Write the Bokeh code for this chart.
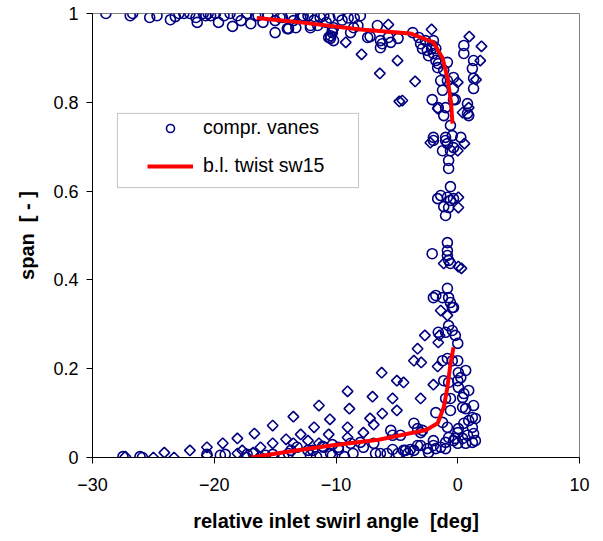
import numpy as np
from bokeh.plotting import figure
from bokeh.models import Range1d, FixedTicker, Legend, LegendItem, BoxAnnotation
from bokeh.embed import file_html
from bokeh.resources import INLINE

# ---------------- data ----------------
circ_x = [
    -28.9, -26.7, -26.9, -25.3, -24.7, -23.6, -23.2, -22.9, -22.5, -22.0, -21.5, -21.4, -20.9, -20.7,
    -20.5, -20.3, -19.9, -19.65, -19.2, -18.7, -18.5, -18.1, -17.8, -17.3, -17.0, -16.6, -16.4, -16.0,
    -15.6, -15.0, -15.0, -14.6, -14.4, -14.0, -13.9, -13.7, -13.5, -13.3, -12.9, -12.75, -12.7, -12.3,
    -12.1, -12.1, -11.5, -11.3, -10.6, -10.45, -10.3, -10.2, -10.3,
    -11.0, -10.5, -9.8, -9.5, -9.0, -8.5, -8.0, -11.8, -10.8,
    -10.45, -10.2, -8.8, -8.55, -8.2, -6.6, -7.4, -7.2, -6.35, -6.35, -6.2, -5.7, -5.5, -4.9,
    -3.7, -3.2, -3.05, -2.9, -2.65, -2.5, -2.4, -2.15, -2.0, -1.8, -1.65, -1.6, -0.85, -1.15,
    -1.4, -0.85, -0.35, -1.25, -0.35, -2.1, -1.6, -1.15, -1.0, -0.6, 0.5, 0.5, 1.3, 1.2, 1.3, 1.3,
    0.8, 0.8, -2.0, -2.1, -1.8, -0.35, -0.2, 0.9, -2.0, -1.0, 0.25,
    -1.0, -0.85, -0.45, -1.25, -0.6, -0.35, -0.75, -0.75, -2.0, -0.6, -1.65, -1.4, -0.85, -0.6,
    -1.15, -0.75, -1.0, -0.35, -0.85, -0.85, -0.85, -0.75, -2.1, -0.6, -0.85, -2.0, -1.25, -0.75,
    -1.8, -0.6, -0.45, -0.35, -0.75, -1.6, -1.0, -0.45, -0.2, 0.0, -1.25, -0.85, -0.45, 0.0,
    0.05, 0.65, -1.15, -0.75, 0.0, 0.25, 0.05, 0.5, 0.9, -1.0, -0.6, 0.4, 0.4, 0.65, 1.3, 1.2,
    1.45, 0.9, 0.5, 0.05, 1.2, 1.3, 0.8, 0.4, 1.45, 1.2, 0.65, 0.0, -0.35, -1.8, -0.6, -1.25,
    -0.85, -3.6, -2.9, -2.0, -2.0, -1.0, -1.0, -1.8, -2.5, -3.3, -3.9, -4.45, -4.1, -2.4,
    -11.1, -10.3, -9.8, -8.8, -8.0, -7.75, -6.9, -8.6, -10.45, -6.75, -6.35, -5.8, -5.35, -4.9,
    -4.3, -3.6, -3.05, -1.4, -5.5, -5.35, -4.7, -3.3, -3.05, -0.75, -0.2, 0.0,
    -27.5, -26.1, -25.9, -20.6, -19.1, -19.5, -17.4, -17.3, -16.2, -15.2, -14.3, -13.7, -13.2,
    -12.3, -12.1, -11.9, -11.0, -10.3, -9.8, -16.8, -15.8, -13.9, -11.6, -9.3,
]
circ_y = [
    1.0, 1.0, 0.995, 0.991, 0.995, 0.986, 0.993, 1.0, 1.0, 1.0, 0.991, 0.98, 1.0, 0.995,
    1.0, 0.995, 1.0, 0.98, 0.995, 1.0, 0.971, 0.995, 0.984, 1.0, 0.977, 0.995, 0.995, 0.98,
    0.995, 0.957, 0.984, 0.991, 0.991, 0.966, 0.966, 0.995, 0.984, 0.968, 0.991, 0.991, 0.995, 0.995,
    0.973, 0.968, 0.973, 0.991, 0.946, 0.95, 0.957, 0.939, 0.962,
    0.995, 0.99, 0.995, 0.985, 0.99, 0.99, 0.995, 0.985, 0.98,
    0.944, 0.968, 0.957, 0.968, 0.973, 0.973, 0.946, 0.948, 0.939, 0.923, 0.932, 0.946, 0.935, 0.944,
    0.957, 0.946, 0.932, 0.921, 0.939, 0.917, 0.905, 0.921, 0.91, 0.894, 0.878, 0.887, 0.89, 0.872,
    0.849, 0.849, 0.856, 0.827, 0.806, 0.806, 0.788, 0.77, 0.788, 0.748, 0.928, 0.91, 0.894, 0.876, 0.854, 0.831,
    0.797, 0.775, 0.939, 0.928, 0.921, 0.831, 0.806, 0.77, 0.721, 0.721, 0.721,
    0.714, 0.707, 0.725, 0.691, 0.691, 0.698, 0.669, 0.651, 0.714, 0.61, 0.583, 0.59, 0.586, 0.579,
    0.565, 0.563, 0.545, 0.583, 0.484, 0.466, 0.455, 0.444, 0.459, 0.437, 0.381, 0.36, 0.36, 0.36,
    0.365, 0.349, 0.338, 0.338, 0.297, 0.282, 0.282, 0.286, 0.275, 0.257, 0.218, 0.223, 0.218, 0.218,
    0.191, 0.196, 0.173, 0.169, 0.173, 0.18, 0.158, 0.144, 0.151, 0.133, 0.133, 0.135, 0.113, 0.11, 0.117, 0.09,
    0.088, 0.083, 0.077, 0.065, 0.068, 0.054, 0.05, 0.043, 0.038, 0.034, 0.032, 0.032, 0.038, 0.101, 0.106, 0.079,
    0.068, 0.077, 0.061, 0.038, 0.027, 0.034, 0.02, 0.02, 0.02, 0.027, 0.018, 0.016, 0.009, 0.011,
    0.025, 0.029, 0.018, 0.032, 0.034, 0.023, 0.032, 0.009, 0.009, 0.009, 0.009, 0.009, 0.018, 0.009,
    0.016, 0.016, 0.027, 0.023, 0.061, 0.05, 0.05, 0.065, 0.056, 0.045, 0.043, 0.056,
    0.002, 0.002, 0.0, 0.007, 0.007, 0.005, 0.0, 0.007, 0.0, 0.007, 0.002, 0.016, 0.023,
    0.016, 0.005, 0.016, 0.023, 0.005, 0.023, 0.009, 0.005, 0.009, 0.002, 0.002,
]

dia_x = [
    -27.3, -25.0, -24.1, -23.3, -22.0, -20.6, -19.3, -18.1, -16.7, -15.2, -13.5, -11.4, -10.5,
    -11.8, -12.9, -10.6, -14.1, -15.2, -13.5, -12.3, -11.4, -16.2, -16.8, -17.7, -20.6, -18.1,
    -2.7, -3.3, -3.6, -3.0, -6.25, -5.0, -4.45, -2.0, -9.05, -7.0, -5.35, -3.05, -8.9, -6.2,
    -5.0, -7.2, -6.9, -9.05, -7.75, -9.05, -1.5, -1.6, -1.65, -0.85, -1.4,
    0.05, -1.15, 0.3, 0.05, 0.05, -2.25, 0.55, 0.0, -1.65, 0.4,
    -9.2, -7.9, -6.4, -5.7, -4.95, -4.8, -3.5, -2.15, 0.95, 1.95, 1.85, 1.5, 0.0, 0.9, -4.55,
]
dia_y = [
    0.002, 0.0, 0.011, 0.0, 0.016, 0.023, 0.032, 0.043, 0.054, 0.072, 0.092, 0.117, 0.086,
    0.068, 0.052, 0.052, 0.041, 0.032, 0.032, 0.038, 0.032, 0.023, 0.011, 0.016, 0.005, 0.009,
    0.275, 0.245, 0.218, 0.214, 0.191, 0.173, 0.169, 0.164, 0.149, 0.137, 0.133, 0.133, 0.11, 0.099,
    0.106, 0.088, 0.074, 0.068, 0.056, 0.045, 0.275, 0.259, 0.205, 0.32, 0.331,
    0.43, 0.437, 0.426, 0.586, 0.563, 0.709, 0.707, 0.691, 0.786, 0.777,
    0.935, 0.908, 0.865, 0.975, 0.894, 0.802, 0.847, 0.964, 0.948, 0.926, 0.894, 0.851, 0.845, 0.788, 0.804,
]

twist_upper_x = [-16.5, -12.9, -8.0, -3.9, -2.0, -1.25, -0.85, -0.55, -0.43]
twist_upper_y = [0.99, 0.98, 0.964, 0.955, 0.935, 0.90, 0.856, 0.80, 0.752]
twist_lower_x = [-17.0, -13.7, -10.4, -6.5, -4.7, -2.6, -1.65, -1.15, -0.85, -0.6, -0.35]
twist_lower_y = [0.0, 0.014, 0.027, 0.04, 0.05, 0.062, 0.077, 0.113, 0.158, 0.21, 0.248]

x_ticks = [-30, -20, -10, 0, 10]
y_ticks = [0, 0.2, 0.4, 0.6, 0.8, 1.0]
y_tick_labels = ["0", "0.2", "0.4", "0.6", "0.8", "1"]

x_title = "relative inlet swirl angle \u00a0[deg]"
y_title = "span \u00a0[ - ]"
legend_labels = ["compr. vanes", "b.l. twist sw15"]

# ---------------- figure ----------------
NAVY = "#000080"
FONT = "Liberation Sans"

p = figure(width=603, height=541, frame_width=487, frame_height=444,
           output_backend="svg", toolbar_location=None,
           x_range=Range1d(-30, 10), y_range=Range1d(0, 1),
           min_border_left=92, min_border_right=24, min_border_top=13, min_border_bottom=84)
p.background_fill_color = "white"
p.border_fill_color = "white"
p.outline_line_color = "#808080"
p.outline_line_width = 1
p.xgrid.visible = False
p.ygrid.visible = False

# scatter data
dia = p.scatter(dia_x, dia_y, marker="square", angle=np.pi / 4, size=7.5,
                fill_color=None, line_color=NAVY, line_width=1.6)
circ = p.scatter(circ_x, circ_y, marker="circle", size=10,
                 fill_color=None, line_color=NAVY, line_width=1.6)

l1 = p.line(twist_upper_x, twist_upper_y, line_color="#FF0000", line_width=4)
l2 = p.line(twist_lower_x, twist_lower_y, line_color="#FF0000", line_width=4)

# axes
for ax in (p.xaxis[0], p.yaxis[0]):
    ax.axis_line_color = "black"
    ax.axis_line_width = 1
    ax.major_tick_line_color = "black"
    ax.major_tick_in = 0
    ax.major_tick_out = 6
    ax.minor_tick_line_color = None
    ax.major_label_text_font = FONT
    ax.major_label_text_font_size = "18px"
    ax.major_label_text_color = "black"
    ax.axis_label_text_font = FONT
    ax.axis_label_text_font_size = "20px"
    ax.axis_label_text_font_style = "bold"
    ax.axis_label_text_color = "black"

p.xaxis.ticker = FixedTicker(ticks=x_ticks)
p.yaxis.ticker = FixedTicker(ticks=y_ticks)
p.yaxis.major_label_overrides = {t: s for t, s in zip(y_ticks, y_tick_labels)}
p.xaxis.major_label_standoff = 14
p.yaxis.major_label_standoff = 8
p.xaxis.axis_label = x_title
p.yaxis.axis_label = y_title
p.xaxis.axis_label_standoff = 16
p.yaxis.axis_label_standoff = 12

# legend frame (drawn separately so glyph positions match)
box = BoxAnnotation(left=-27.95, right=-8.15, bottom=0.608, top=0.775,
                    fill_color="white", fill_alpha=1.0,
                    line_color="#404040", line_width=1, level="overlay")
p.add_layout(box)

legend = Legend(items=[LegendItem(label=legend_labels[0], renderers=[circ]),
                       LegendItem(label=legend_labels[1], renderers=[l1])],
                location=(55, 280), padding=0, margin=0, spacing=15,
                glyph_width=46, glyph_height=20, label_height=20, label_standoff=10,
                label_text_font=FONT, label_text_font_size="19.5px",
                label_text_color="black",
                border_line_color=None, background_fill_alpha=0.0)
p.add_layout(legend)

open("out.html", "w").write(file_html(p, INLINE))
